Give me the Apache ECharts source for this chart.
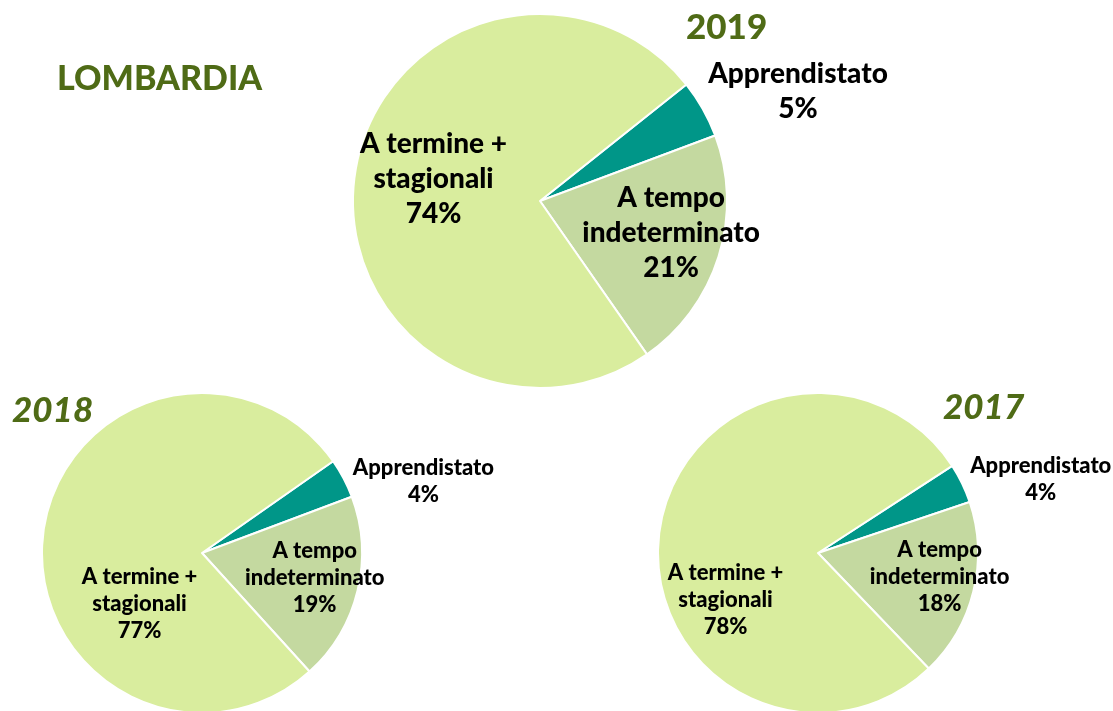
<!DOCTYPE html>
<html><head><meta charset="utf-8">
<script src="https://cdn.jsdelivr.net/npm/echarts@6/dist/echarts.min.js"></script>
<style>html,body{margin:0;padding:0;background:#fff}#c{width:1113px;height:711px}</style>
</head><body><div id="c"></div>
<script>
const categories = ['Apprendistato', 'A tempo\nindeterminato', 'A termine +\nstagionali'];
const values2019 = [5, 21, 74];
const values2018 = [4, 19, 77];
const values2017 = [4, 18, 78];
const years = ['2019', '2018', '2017'];
const regionName = 'LOMBARDIA';

const colors = ['#009688', '#C4D9A0', '#D9ED9E'];
const FONT = 'Lato';
const titleColor = '#4F6B16';

function buildData(vals) {
  return categories.map((c, i) => ({ name: c, value: vals[i], itemStyle: { color: colors[i] } }));
}
function makePie(vals, center, radius, startAngle, fontSize, lineHeight, offsets) {
  return {
    type: 'pie', center: center, radius: radius, startAngle: startAngle, clockwise: true,
    avoidLabelOverlap: false, animation: false,
    itemStyle: { borderColor: '#fff', borderWidth: 2 },
    label: { show: true, position: 'inside', formatter: '{b}\n{c}%', color: '#000',
      fontFamily: FONT, fontWeight: 900, fontSize: fontSize, lineHeight: lineHeight, align: 'center' },
    labelLine: { show: false },
    emphasis: { disabled: true },
    labelLayout: function (p) { return { dx: offsets[p.dataIndex][0], dy: offsets[p.dataIndex][1] }; },
    data: buildData(vals)
  };
}
const tStyle = (size, italic) => ({ fontFamily: FONT, fontWeight: 900, fontStyle: italic ? 'italic' : 'normal', fontSize: size, color: titleColor });
const chart = echarts.init(document.getElementById('c'), null, { renderer: 'canvas' });
chart.setOption({
  backgroundColor: '#fff',
  title: [
    { text: regionName, left: 57, top: 62, padding: 0, textStyle: tStyle(34, false) },
    { text: years[0], left: 686, top: 10, padding: 0, textStyle: tStyle(35, false) },
    { text: years[1], left: 12, top: 393, padding: 0, textStyle: tStyle(35, true) },
    { text: years[2], left: 943, top: 390, padding: 0, textStyle: tStyle(35, true) }
  ],
  series: [
    makePie(values2019, [540, 201], 187, 38.5, 28, 35, [[174, -62], [39, 3], [-11, -8]]),
    makePie(values2018, [202, 553], 160, 35, 22, 27, [[148, -33], [32, 5], [20, 60]]),
    makePie(values2017, [818, 553], 160, 33, 22, 27, [[148, -37], [41, 4], [-10, 56]])
  ]
});
</script></body></html>
